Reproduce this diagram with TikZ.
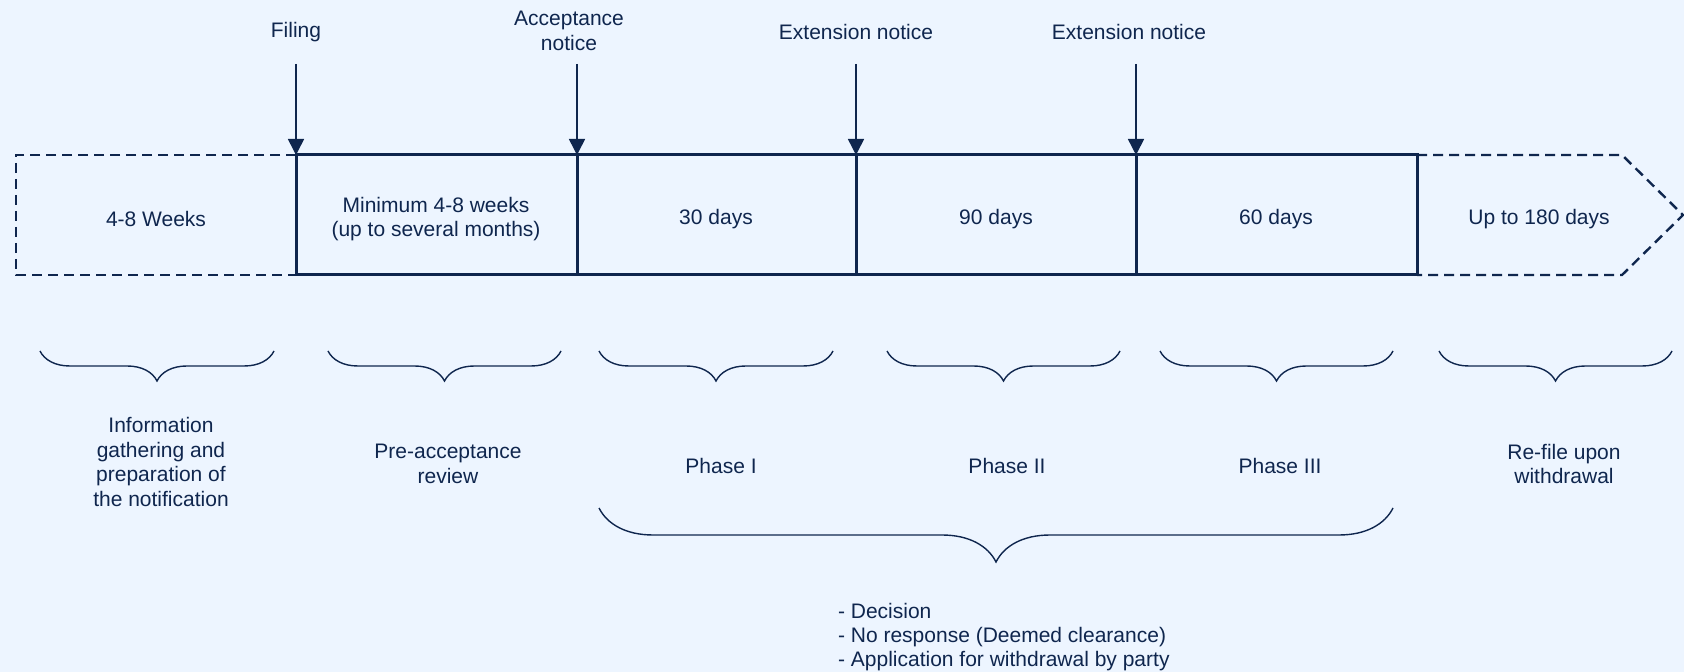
\documentclass[tikz,border=0pt]{standalone}
\usepackage{fontspec}
\setmainfont{Liberation Sans}
\usetikzlibrary{arrows.meta,decorations.pathreplacing}
\definecolor{mynavy}{RGB}{15,38,78}
\definecolor{mybg}{RGB}{237,245,255}

\begin{document}
\begin{tikzpicture}[x=0.5pt,y=-0.5pt,
  lbl/.style={font=\fontsize{10.5}{12.2}\selectfont, text=mynavy, align=center},
  cell/.style={mynavy, line width=1.5pt},
  dashcell/.style={mynavy, line width=1.2pt, dash pattern=on 5pt off 3pt},
  marker/.style={mynavy, line width=0.8pt, -{Triangle[width=8pt,length=8pt]}},
  brc/.style={mynavy, line width=0.7pt, decorate, decoration={brace,mirror,amplitude=#1}}]
  \useasboundingbox (0,0) rectangle (1684,672);
  \fill[mybg] (0,0) rectangle (1684,672);

  \draw[dashcell] (296,155) -- (16,155) -- (16,275) -- (296,275);
  \draw[dashcell] (1417,155) -- (1622,155) -- (1683,215) -- (1622,275) -- (1417,275);
  \draw[cell] (296,155) rectangle (1417,275);
  \foreach \x in {577,856,1136} \draw[cell] (\x,155) -- (\x,275);

  \foreach \x/\i in {296/1,577/2,856/3,1136/4} {
    \coordinate (s\i) at (\x,64);
    \coordinate (t\i) at (\x,155);
    \draw[marker] (s\i) -- (t\i);
  }
  \node[lbl] (filing) at (296,32) {Filing};
  \node[lbl] (accept) at (569,31) {Acceptance\\notice};
  \node[lbl] (ext1) at (856,32) {Extension notice};
  \node[lbl] (ext2) at (1129,32) {Extension notice};

  \node[lbl] (prepwk) at (156,219) {4-8 Weeks};
  \node[lbl] (prewk) at (436,219) {Minimum 4-8 weeks\\(up to several months)};
  \node[lbl] (ph1d) at (716,219) {30 days};
  \node[lbl] (ph2d) at (996,219) {90 days};
  \node[lbl] (ph3d) at (1276,219) {60 days};
  \node[lbl] (refd) at (1539,219) {Up to 180 days};

  \foreach \a/\b in {40/274,328/561,599/833,887/1120,1160/1393,1439/1672}
    \draw[brc=15pt] (\a,351) -- (\b,351);
  \draw[brc=27pt] (599,508) -- (1393,508);

  \node[lbl] (info) at (161,462) {Information\\gathering and\\preparation of\\the notification};
  \node[lbl] (prerev) at (448,464) {Pre-acceptance\\review};
  \node[lbl] (ph1) at (721,466) {Phase I};
  \node[lbl] (ph2) at (1007,466) {Phase II};
  \node[lbl] (ph3) at (1280,466) {Phase III};
  \node[lbl] (refile) at (1564,464) {Re-file upon\\withdrawal};
  \node[lbl, align=left, anchor=west] (outcome) at (831,637) {- Decision\\- No response (Deemed clearance)\\- Application for withdrawal by party};
\end{tikzpicture}
\end{document}
